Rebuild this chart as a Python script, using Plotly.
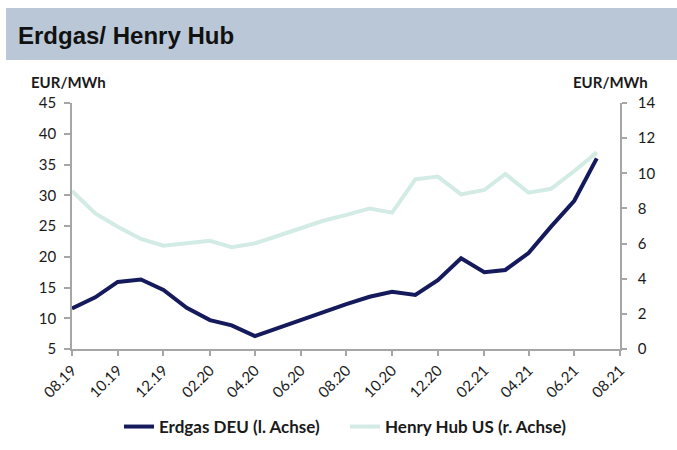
import plotly.graph_objects as go

months = ["2019-08-01", "2019-09-01", "2019-10-01", "2019-11-01", "2019-12-01", "2020-01-01",
          "2020-02-01", "2020-03-01", "2020-04-01", "2020-05-01", "2020-06-01", "2020-07-01",
          "2020-08-01", "2020-09-01", "2020-10-01", "2020-11-01", "2020-12-01", "2021-01-01",
          "2021-02-01", "2021-03-01", "2021-04-01", "2021-05-01", "2021-06-01", "2021-07-01"]
erdgas_deu = [11.6, 13.4, 15.9, 16.3, 14.6, 11.7, 9.7, 8.85, 7.1, 8.4, 9.7, 11.0,
              12.3, 13.5, 14.3, 13.8, 16.2, 19.75, 17.5, 17.85, 20.6, 24.9, 29.1, 36.0]
henry_hub_us = [9.0, 7.72, 6.96, 6.26, 5.88, 6.01, 6.16, 5.79, 6.01, 6.43, 6.87, 7.3,
                7.63, 8.0, 7.76, 9.66, 9.81, 8.8, 9.05, 9.96, 8.9, 9.12, 10.13, 11.19]

name_deu = "Erdgas DEU (l. Achse)"
name_hh = "Henry Hub US (r. Achse)"
title = "Erdgas/ Henry Hub"
unit = "EUR/MWh"

W, H = 677, 450
L, T, R, B = 72, 103, 677 - 620, 450 - 349
pw = W - L - R
ph = H - T - B

def px(x):
    return (x - L) / pw

def py(y):
    return (H - B - y) / ph

fig = go.Figure()
fig.add_trace(go.Scatter(x=months, y=erdgas_deu, name="<b>" + name_deu + "</b>", mode="lines",
                         line=dict(color="#141A5B", width=4), yaxis="y"))
fig.add_trace(go.Scatter(x=months, y=henry_hub_us, name="<b>" + name_hh + "</b>", mode="lines",
                         line=dict(color="#D3EBE5", width=4), yaxis="y2"))

axis_color = "#A6A6A6"
FONT = "Lato, Open Sans, sans-serif"
tick_font = dict(family=FONT, size=15, color="#1a1a1a")

fig.update_layout(
    width=W, height=H,
    margin=dict(l=L, r=R, t=T, b=B, pad=0, autoexpand=False),
    paper_bgcolor="white", plot_bgcolor="white",
    showlegend=True,
    legend=dict(orientation="h", x=px(119), y=py(427), xanchor="left", yanchor="middle",
                font=dict(family=FONT, size=17, color="#1a1a1a"),
                entrywidth=181, entrywidthmode="pixels",
                bgcolor="rgba(0,0,0,0)"),
    xaxis=dict(type="date", range=["2019-08-01", "2021-08-01"], tick0="2019-08-01", dtick="M2",
               tickformat="%m.%y", tickangle=-45, showgrid=False, zeroline=False,
               showline=True, linecolor=axis_color, linewidth=1.5,
               ticks="outside", ticklen=5, tickcolor=axis_color, tickwidth=1.5,
               tickfont=tick_font),
    yaxis=dict(range=[5, 45], dtick=5, showgrid=False, zeroline=False,
               showline=True, linecolor=axis_color, linewidth=1.5,
               ticks="outside", ticklen=6, tickcolor=axis_color, tickwidth=1.5,
               ticklabelstandoff=5, tickfont=tick_font),
    yaxis2=dict(range=[0, 14], dtick=2, overlaying="y", side="right", showgrid=False,
                zeroline=False, showline=True, linecolor=axis_color, linewidth=1.5,
                ticks="outside", ticklen=5, tickcolor=axis_color, tickwidth=1.5,
                ticklabelstandoff=8, tickfont=tick_font),
)

# title band
fig.add_shape(type="rect", xref="paper", yref="paper",
              x0=px(6), x1=px(700), y0=py(60), y1=py(8),
              fillcolor="#B9C7D6", line=dict(width=0), layer="below")
fig.add_annotation(text="<b>" + title + "</b>", xref="paper", yref="paper",
                   x=px(16), y=py(35), xanchor="left", yanchor="middle", showarrow=False,
                   font=dict(family="Liberation Sans, Arial, sans-serif", size=24, color="#111111"))
fig.add_annotation(text="<b>" + unit + "</b>", xref="paper", yref="paper",
                   x=px(68), y=py(82), xanchor="center", yanchor="middle", showarrow=False,
                   font=dict(family=FONT, size=15, color="#1a1a1a"))
fig.add_annotation(text="<b>" + unit + "</b>", xref="paper", yref="paper",
                   x=px(610), y=py(82), xanchor="center", yanchor="middle", showarrow=False,
                   font=dict(family=FONT, size=15, color="#1a1a1a"))

fig.write_html("out.html", config={"displayModeBar": False},
               post_script="document.body.style.margin='0px';document.body.style.overflow='hidden';")
